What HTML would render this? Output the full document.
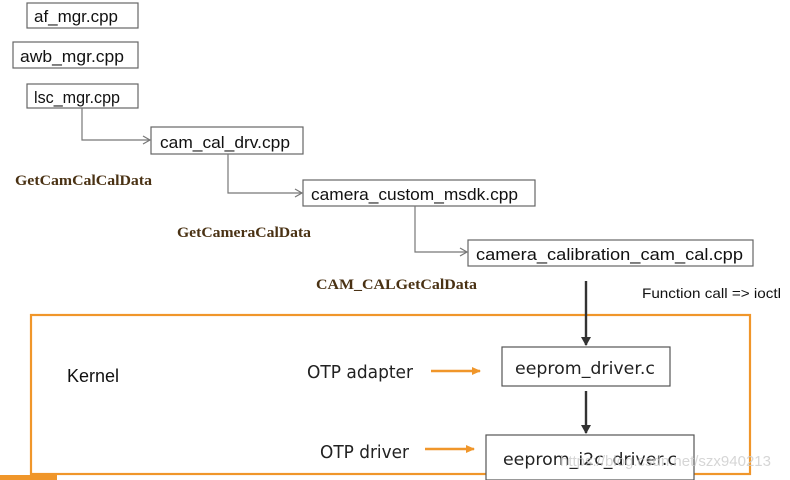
<!DOCTYPE html>
<html><head><meta charset="utf-8"><style>
html,body{margin:0;padding:0;background:#fff;}
svg{display:block;}
</style></head><body>
<svg width="790" height="480" xmlns="http://www.w3.org/2000/svg">
<defs>
<marker id="ga" markerWidth="10" markerHeight="10" refX="8" refY="5" orient="auto" markerUnits="userSpaceOnUse"><path d="M1,1 L8,5 L1,9" fill="none" stroke="#777" stroke-width="1.2"/></marker>
<marker id="ba" markerWidth="10" markerHeight="10" refX="8" refY="5" orient="auto" markerUnits="userSpaceOnUse"><path d="M0,0 L9,5 L0,10 z" fill="#333"/></marker>
<marker id="oa" markerWidth="10" markerHeight="10" refX="8" refY="5" orient="auto" markerUnits="userSpaceOnUse"><path d="M0,1 L9,5 L0,9 z" fill="#f0962a"/></marker>
</defs>
<g fill="#fff" stroke="#666" stroke-width="1.2">
<rect x="27" y="3" width="111" height="25"/>
<rect x="13" y="42" width="125" height="26"/>
<rect x="27" y="84" width="111" height="24"/>
<rect x="151" y="127" width="152" height="27"/>
<rect x="303" y="180" width="232" height="26"/>
<rect x="468" y="240" width="285" height="26"/>
</g>
<g font-family="Liberation Sans, sans-serif" font-size="17" fill="#111">
<text x="34" y="22" textLength="84" lengthAdjust="spacingAndGlyphs">af_mgr.cpp</text>
<text x="20" y="62" textLength="104" lengthAdjust="spacingAndGlyphs">awb_mgr.cpp</text>
<text x="34" y="103" textLength="86" lengthAdjust="spacingAndGlyphs">lsc_mgr.cpp</text>
<text x="160" y="148" textLength="130" lengthAdjust="spacingAndGlyphs">cam_cal_drv.cpp</text>
<text x="311" y="200" textLength="207" lengthAdjust="spacingAndGlyphs">camera_custom_msdk.cpp</text>
<text x="476" y="260" textLength="267" lengthAdjust="spacingAndGlyphs">camera_calibration_cam_cal.cpp</text>
<text x="642" y="298" font-size="14" textLength="139" lengthAdjust="spacingAndGlyphs">Function call =&gt; ioctl</text>
</g>
<g fill="none" stroke="#777" stroke-width="1.2">
<path d="M82,108 V140 H150" marker-end="url(#ga)"/>
<path d="M228,154 V193 H302" marker-end="url(#ga)"/>
<path d="M415,206 V252 H467" marker-end="url(#ga)"/>
</g>
<g font-family="Liberation Serif, serif" font-weight="bold" font-size="15" fill="#4a3214">
<text x="15" y="185" textLength="137" lengthAdjust="spacingAndGlyphs">GetCamCalCalData</text>
<text x="177" y="237" textLength="134" lengthAdjust="spacingAndGlyphs">GetCameraCalData</text>
<text x="316" y="289" textLength="161" lengthAdjust="spacingAndGlyphs">CAM_CALGetCalData</text>
</g>
<rect x="31" y="315" width="719" height="159" fill="none" stroke="#f0962a" stroke-width="2.2"/>
<rect x="0" y="475" width="57" height="5" fill="#f0962a"/>
<line x1="586" y1="281" x2="586" y2="345" stroke="#333" stroke-width="2.4" marker-end="url(#ba)"/>
<line x1="586" y1="391" x2="586" y2="433" stroke="#333" stroke-width="2.4" marker-end="url(#ba)"/>
<g fill="#fff" stroke="#555" stroke-width="1.2">
<rect x="502" y="347" width="168" height="39"/>
<rect x="486" y="435" width="208" height="45"/>
</g>
<g font-family="DejaVu Sans, sans-serif" font-size="17" fill="#222">
<text x="515" y="374" textLength="140" lengthAdjust="spacingAndGlyphs">eeprom_driver.c</text>
<text x="503" y="465" textLength="174" lengthAdjust="spacingAndGlyphs">eeprom_i2c_driver.c</text>
<text x="307" y="378" font-size="18" textLength="106" lengthAdjust="spacingAndGlyphs">OTP adapter</text>
<text x="320" y="458" font-size="18" textLength="89" lengthAdjust="spacingAndGlyphs">OTP driver</text>
</g>
<text x="67" y="382" font-family="Liberation Sans, sans-serif" font-size="18" fill="#111">Kernel</text>
<line x1="431" y1="371" x2="480" y2="371" stroke="#f0962a" stroke-width="2.4" marker-end="url(#oa)"/>
<line x1="425" y1="449" x2="474" y2="449" stroke="#f0962a" stroke-width="2.4" marker-end="url(#oa)"/>
<text x="560" y="466" font-family="Liberation Sans, sans-serif" font-size="15" fill="#ccc" opacity="0.8">https://blog.csdn.net/szx940213</text>
</svg>
</body></html>
